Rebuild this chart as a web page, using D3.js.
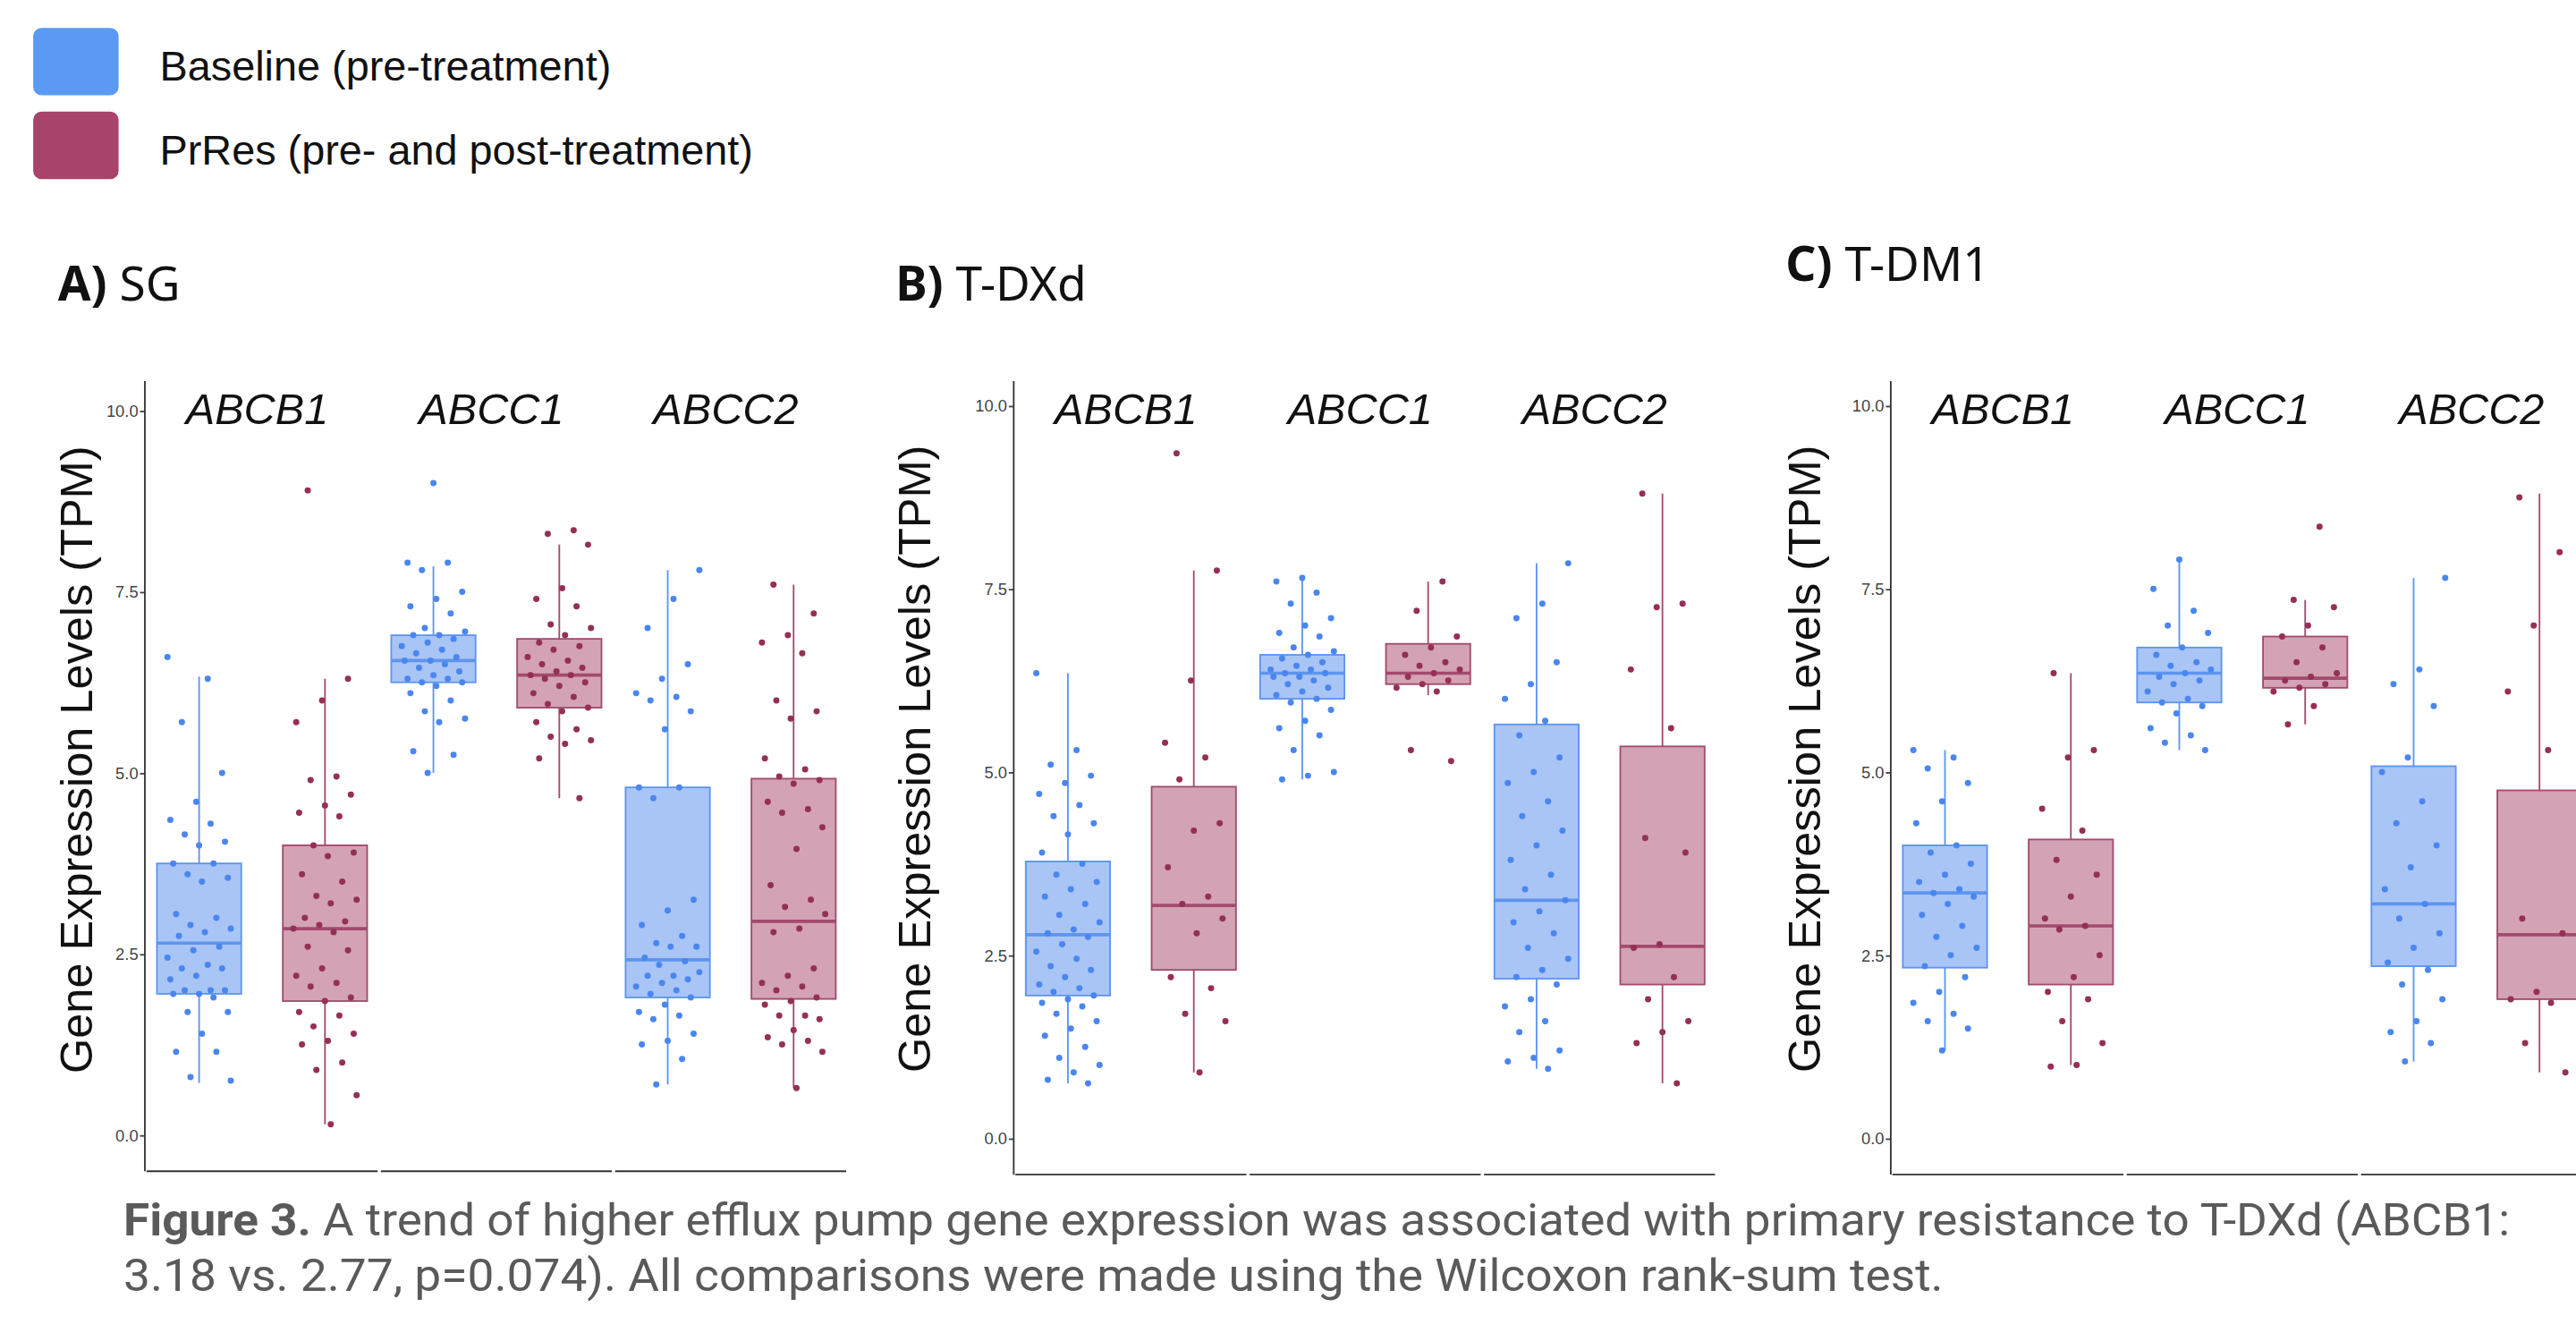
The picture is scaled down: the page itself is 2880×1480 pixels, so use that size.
<!DOCTYPE html>
<html><head><meta charset="utf-8">
<script src="https://cdn.jsdelivr.net/npm/d3@7"></script>
<style>body{margin:0;background:#fff}svg{display:block}</style>
</head><body>
<svg id="chart" width="2880" height="1480" viewBox="0 0 1568 806"></svg>
<script>
const genes = ['ABCB1', 'ABCC1', 'ABCC2'];
const groups = ['Baseline (pre-treatment)', 'PrRes (pre- and post-treatment)'];
const panels = [
  {letter: 'A)', drug: 'SG'},
  {letter: 'B)', drug: 'T-DXd'},
  {letter: 'C)', drug: 'T-DM1'}
];
const yTicks = [0, 2.5, 5, 7.5, 10];

// box stats per panel: [gene][group] = [low whisker, q1, median, q3, high whisker]
const statsSG = [
  [[0.72, 1.95, 2.65, 3.75, 6.33], [0.15, 1.85, 2.85, 4.0, 6.3]],
  [[5.0, 6.25, 6.55, 6.9, 7.85], [4.65, 5.9, 6.35, 6.85, 8.15]],
  [[0.7, 1.9, 2.42, 4.8, 7.8], [0.65, 1.88, 2.95, 4.92, 7.6]]
];
const statsTDXd = [
  [[0.75, 1.95, 2.78, 3.78, 6.35], [0.9, 2.3, 3.18, 4.8, 7.75]],
  [[4.9, 6.0, 6.35, 6.6, 7.65], [6.05, 6.2, 6.35, 6.75, 7.6]],
  [[0.95, 2.18, 3.25, 5.65, 7.85], [0.75, 2.1, 2.62, 5.35, 8.8]]
];
const statsTDM1 = [
  [[1.2, 2.33, 3.35, 4.0, 5.3], [1.0, 2.1, 2.9, 4.08, 6.35]],
  [[5.3, 5.95, 6.35, 6.7, 7.9], [5.65, 6.15, 6.28, 6.85, 7.35]],
  [[1.05, 2.35, 3.2, 5.08, 7.65], [0.9, 1.9, 2.78, 4.75, 8.8]]
];

// individual sample values per panel: [gene][group]
const pointsSG = [
  [[6.6, 6.3, 5.7, 5.0, 4.6, 4.35, 4.3, 4.15, 4.05, 4.0, 3.75, 3.75, 3.6, 3.55, 3.5, 3.05, 3.0, 2.9, 2.85, 2.8, 2.75, 2.6, 2.55, 2.45, 2.35, 2.3, 2.3, 2.2, 2.15, 2.0, 2.0, 2.0, 1.95, 1.95, 1.9, 1.7, 1.7, 1.4, 1.15, 1.15, 0.8, 0.75],
   [8.9, 6.3, 6.0, 5.7, 4.95, 4.9, 4.7, 4.55, 4.45, 4.4, 4.0, 3.9, 3.85, 3.6, 3.5, 3.3, 3.25, 3.2, 3.0, 2.95, 2.9, 2.85, 2.8, 2.6, 2.55, 2.3, 2.2, 2.1, 2.05, 1.9, 1.85, 1.7, 1.65, 1.5, 1.4, 1.3, 1.25, 1.0, 0.9, 0.55, 0.15]],
  [[9.0, 7.9, 7.9, 7.8, 7.5, 7.4, 7.3, 7.2, 7.0, 6.95, 6.9, 6.9, 6.85, 6.8, 6.75, 6.7, 6.65, 6.6, 6.55, 6.55, 6.5, 6.45, 6.4, 6.35, 6.3, 6.3, 6.25, 6.25, 6.2, 6.1, 6.0, 5.85, 5.75, 5.7, 5.3, 5.25, 5.0],
   [8.35, 8.3, 8.15, 7.55, 7.4, 7.3, 7.05, 7.0, 6.9, 6.8, 6.75, 6.7, 6.6, 6.55, 6.5, 6.45, 6.4, 6.35, 6.35, 6.3, 6.25, 6.2, 6.1, 6.05, 5.95, 5.9, 5.85, 5.7, 5.6, 5.5, 5.45, 5.4, 5.2, 4.65]],
  [[7.8, 7.4, 7.0, 6.5, 6.3, 6.1, 6.05, 6.0, 5.85, 5.6, 4.8, 4.8, 4.65, 3.25, 3.1, 2.9, 2.75, 2.65, 2.6, 2.6, 2.45, 2.4, 2.35, 2.25, 2.2, 2.2, 2.15, 2.1, 2.05, 2.0, 1.95, 1.9, 1.8, 1.7, 1.65, 1.6, 1.4, 1.3, 1.25, 1.05, 0.7],
   [7.6, 7.2, 6.9, 6.8, 6.65, 6.0, 5.85, 5.75, 5.2, 5.05, 4.95, 4.9, 4.85, 4.6, 4.5, 4.45, 4.25, 3.95, 3.45, 3.25, 3.15, 3.05, 2.85, 2.8, 2.3, 2.2, 2.1, 2.05, 2.0, 1.9, 1.85, 1.8, 1.65, 1.65, 1.6, 1.45, 1.35, 1.3, 1.25, 1.15, 0.65]]
];
const pointsTDXd = [
  [[6.35, 5.3, 5.1, 4.95, 4.85, 4.7, 4.55, 4.4, 4.3, 4.15, 3.9, 3.75, 3.6, 3.5, 3.4, 3.3, 3.2, 3.05, 2.95, 2.85, 2.8, 2.75, 2.65, 2.55, 2.45, 2.35, 2.3, 2.2, 2.1, 2.05, 2.0, 1.95, 1.9, 1.85, 1.8, 1.7, 1.6, 1.5, 1.4, 1.25, 1.1, 1.0, 0.9, 0.8, 0.75],
   [9.35, 7.75, 6.25, 5.4, 5.2, 4.9, 4.3, 4.2, 3.7, 3.3, 3.2, 3.0, 2.8, 2.2, 2.05, 1.7, 1.6, 0.9]],
  [[7.65, 7.6, 7.45, 7.3, 7.1, 7.0, 6.9, 6.85, 6.7, 6.65, 6.6, 6.55, 6.5, 6.45, 6.4, 6.4, 6.35, 6.35, 6.3, 6.3, 6.25, 6.2, 6.15, 6.1, 6.05, 6.0, 5.95, 5.85, 5.7, 5.6, 5.5, 5.3, 5.0, 4.95, 4.9],
   [7.6, 7.2, 6.85, 6.7, 6.6, 6.5, 6.45, 6.4, 6.35, 6.3, 6.25, 6.2, 6.15, 6.1, 5.3, 5.15]],
  [[7.85, 7.3, 7.1, 6.5, 6.2, 6.0, 5.7, 5.5, 5.2, 5.0, 4.85, 4.6, 4.4, 4.2, 4.0, 3.8, 3.6, 3.4, 3.25, 3.1, 2.95, 2.8, 2.6, 2.45, 2.3, 2.2, 2.1, 1.9, 1.8, 1.6, 1.45, 1.2, 1.1, 1.05, 0.95],
   [8.8, 7.3, 7.25, 6.4, 5.6, 4.1, 3.9, 2.65, 2.6, 2.2, 1.9, 1.6, 1.45, 1.3, 0.75]]
];
const pointsTDM1 = [
  [[5.3, 5.2, 5.05, 4.85, 4.6, 4.3, 4.0, 3.9, 3.75, 3.6, 3.5, 3.4, 3.35, 3.3, 3.2, 3.05, 2.9, 2.75, 2.6, 2.5, 2.35, 2.2, 2.0, 1.85, 1.7, 1.6, 1.5, 1.2],
   [6.35, 5.3, 5.2, 4.5, 4.2, 3.8, 3.6, 3.3, 3.0, 2.9, 2.85, 2.5, 2.2, 2.0, 1.9, 1.6, 1.3, 1.0, 0.98]],
  [[7.9, 7.5, 7.2, 7.0, 6.9, 6.7, 6.6, 6.5, 6.45, 6.4, 6.35, 6.3, 6.25, 6.2, 6.1, 6.0, 5.95, 5.9, 5.8, 5.6, 5.5, 5.4, 5.3],
   [8.35, 7.35, 7.25, 7.0, 6.85, 6.7, 6.5, 6.35, 6.3, 6.25, 6.2, 6.15, 6.1, 5.9, 5.65]],
  [[7.65, 6.4, 6.2, 5.9, 5.2, 5.0, 4.6, 4.3, 4.0, 3.7, 3.4, 3.2, 3.0, 2.8, 2.6, 2.4, 2.3, 2.1, 1.9, 1.6, 1.45, 1.3, 1.05],
   [8.75, 8.0, 7.0, 6.1, 5.3, 3.0, 2.8, 2.0, 1.9, 1.85, 1.3, 0.9]]
];

const allStats = [statsSG, statsTDXd, statsTDM1];
const allPoints = [pointsSG, pointsTDXd, pointsTDM1];

// layout (view box units)
const layout = [
  {axisX: 88, y0: 691, y10: 250, titleX: 35, titleY: 183, labX: 56},
  {axisX: 617, y0: 693, y10: 247, titleX: 545, titleY: 183, labX: 566},
  {axisX: 1151, y0: 693, y10: 247, titleX: 1087, titleY: 171, labX: 1108}
];
const fill = ['#a9c5f6', '#d3a3b5'];
const stroke = ['#5d95ee', '#a34a6e'];
const dot = ['#4a86ef', '#952f56'];
const swatch = ['#5a99f4', '#a8436c'];

const svg = d3.select('#chart');
const font = 'Liberation Sans, Arial, sans-serif';

// legend
groups.forEach((g, i) => {
  svg.append('rect').attr('x', 20).attr('y', 17 + i * 51).attr('width', 52).attr('height', 41)
    .attr('rx', 5).attr('fill', swatch[i]);
  svg.append('text').attr('x', 97).attr('y', 49 + i * 51).attr('font-family', font)
    .attr('font-size', 25.5).attr('fill', '#111').text(g);
});

panels.forEach((p, pi) => {
  const L = layout[pi];
  const g = svg.append('g');
  const y = d3.scaleLinear().domain([0, 10]).range([L.y0, L.y10]);
  const x = d3.scaleBand().domain(genes).range([L.axisX, L.axisX + 428]);
  const sub = d3.scaleBand().domain([0, 1]).range([-64, 64]).paddingInner(0.33);

  const t = g.append('text').attr('x', L.titleX).attr('y', L.titleY)
    .attr('font-family', 'Noto Sans, sans-serif').attr('font-size', 29).attr('fill', '#111');
  t.append('tspan').attr('font-weight', 'bold').text(p.letter + ' ');
  t.append('tspan').text(p.drug);

  // y axis
  const ax = g.append('g').attr('transform', `translate(${L.axisX},0)`)
    .call(d3.axisLeft(y).tickValues(yTicks).tickFormat(d3.format('.1f')).tickSize(3).tickPadding(1));
  ax.select('.domain').remove();
  ax.selectAll('text').attr('font-family', font).attr('font-size', 10).attr('fill', '#444');
  ax.selectAll('line').attr('stroke', '#444');
  g.append('line').attr('x1', L.axisX).attr('x2', L.axisX).attr('y1', 232).attr('y2', L.y0 + 22)
    .attr('stroke', '#333').attr('stroke-width', 1);
  g.append('text').attr('transform', `translate(${L.labX},${(L.y0 + L.y10) / 2 - 8}) rotate(-90)`)
    .attr('text-anchor', 'middle').attr('font-family', font).attr('font-size', 27.5).attr('fill', '#111')
    .text('Gene Expression Levels (TPM)');

  genes.forEach((gene, gi) => {
    const cx = x(gene) + x.bandwidth() / 2;
    g.append('line').attr('x1', x(gene) + 1).attr('x2', x(gene) + x.bandwidth() - 1)
      .attr('y1', L.y0 + 22).attr('y2', L.y0 + 22).attr('stroke', '#333');
    g.append('text').attr('x', cx - 3).attr('y', 258).attr('text-anchor', 'middle')
      .attr('font-family', font).attr('font-style', 'italic').attr('font-size', 26.5).attr('fill', '#111')
      .text(gene);

    [0, 1].forEach(k => {
      const s = allStats[pi][gi][k];
      const bx = cx + sub(k);
      const bw = sub.bandwidth();
      const mid = bx + bw / 2;
      g.append('line').attr('x1', mid).attr('x2', mid).attr('y1', y(s[0])).attr('y2', y(s[4]))
        .attr('stroke', stroke[k]).attr('stroke-width', 1);
      g.append('rect').attr('x', bx).attr('width', bw).attr('y', y(s[3])).attr('height', y(s[1]) - y(s[3]))
        .attr('fill', fill[k]).attr('stroke', stroke[k]).attr('stroke-width', 1);
      g.append('line').attr('x1', bx).attr('x2', bx + bw).attr('y1', y(s[2])).attr('y2', y(s[2]))
        .attr('stroke', stroke[k]).attr('stroke-width', 2);
      const pts = allPoints[pi][gi][k];
      g.selectAll(null).data(pts).join('circle')
        .attr('cx', (d, i) => mid + (((i * 37 + gi * 11 + k * 5) % 23) / 22 - 0.5) * bw * 0.75)
        .attr('cy', d => y(d)).attr('r', 1.9).attr('fill', dot[k]);
    });
  });
});

// caption
const cap = svg.append('g').attr('font-family', 'Roboto, sans-serif').attr('font-size', 27).attr('fill', '#5a5a5a');
const c1 = cap.append('text').attr('x', 75).attr('y', 752).attr('textLength', 1453).attr('lengthAdjust', 'spacingAndGlyphs');
c1.append('tspan').attr('font-weight', 'bold').text('Figure 3.');
c1.append('tspan').text(' A trend of higher efflux pump gene expression was associated with primary resistance to T-DXd (ABCB1:');
cap.append('text').attr('x', 75).attr('y', 786).attr('textLength', 1108).attr('lengthAdjust', 'spacingAndGlyphs')
  .text('3.18 vs. 2.77, p=0.074). All comparisons were made using the Wilcoxon rank-sum test.');
</script>
</body></html>
